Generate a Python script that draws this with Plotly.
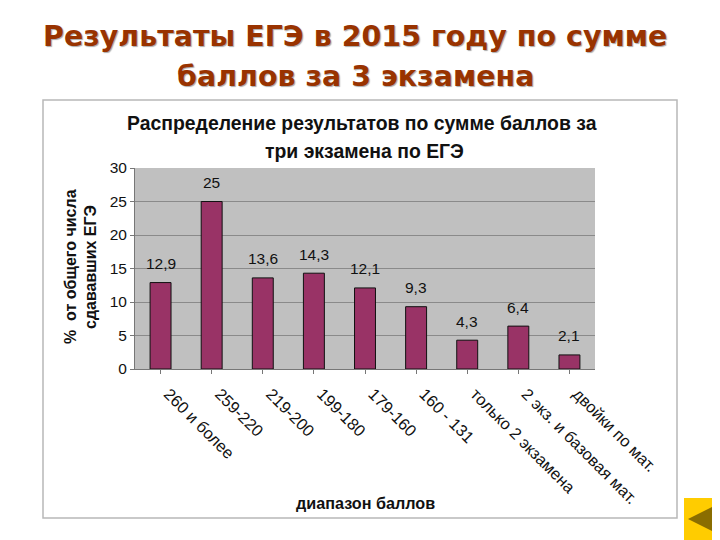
import plotly.graph_objects as go

categories = ["260 и более", "259-220", "219-200", "199-180", "179-160", "160 - 131",
              "только 2 экзамена", "2 экз. и базовая мат.", "двойки по мат."]
values = [12.9, 25, 13.6, 14.3, 12.1, 9.3, 4.3, 6.4, 2.1]
value_labels = ["12,9", "25", "13,6", "14,3", "12,1", "9,3", "4,3", "6,4", "2,1"]
y_ticks = [0, 5, 10, 15, 20, 25, 30]

OFF = 8  # page body margin
W, H = 720, 540
L, R, T, B = 135, 595, 168, 369
def px(x): return (x - L) / (R - L)
def py(y): return (B - y) / (B - T)

fig = go.Figure(go.Bar(
    x=categories, y=values,
    marker=dict(color="#993366", line=dict(color="#111", width=1)),
    width=0.41,
))

shapes = [
    dict(type="rect", xref="paper", yref="paper", x0=px(43), x1=px(677), y0=py(518), y1=py(100),
         line=dict(color="#b8b8b8", width=1.5), fillcolor="white", layer="below"),
    dict(type="rect", xref="paper", yref="paper", x0=0, x1=1, y0=0, y1=1,
         line=dict(width=0), fillcolor="#c0c0c0", layer="below"),
    dict(type="rect", xref="paper", yref="paper", x0=px(684), x1=px(720), y0=py(540), y1=py(498),
         line=dict(width=0), fillcolor="#ffcc00"),
    dict(type="path", xref="paper", yref="paper",
         path=f"M {px(716)} {py(505)} L {px(716)} {py(533)} L {px(688)} {py(519)} Z",
         line=dict(width=0), fillcolor="#8a6d00"),
]

title_font = dict(family="DejaVu Sans", size=28.5, color="#993300", weight="bold",
                  shadow="1px 1px 1px #aaa")
bold = dict(family="Liberation Sans", color="#111", weight="bold")
def note(text, x, y, font, **kw):
    return dict(text=text, x=px(x), y=py(y), xref="paper", yref="paper", showarrow=False,
                xanchor="center", yanchor="middle", font=font, **kw)

annotations = [
    note("Результаты ЕГЭ в 2015 году по сумме", 355, 36, title_font),
    note("баллов за 3 экзамена", 355, 76, title_font),
    note("Распределение результатов по сумме баллов за", 362, 123, dict(bold, size=19.4)),
    note("три экзамена по ЕГЭ", 364, 151, dict(bold, size=19.4)),
    note("диапазон баллов", 365, 503, dict(bold, size=16.2)),
    note("%  от общего числа", 70, 267, dict(bold, size=16), textangle=-90),
    note("сдававших ЕГЭ", 90, 267, dict(bold, size=16), textangle=-90),
]
for c, v, t in zip(categories, values, value_labels):
    annotations.append(dict(text=t, x=c, y=v, xref="x", yref="y", showarrow=False, yshift=19,
                            font=dict(family="Liberation Sans", size=15.5, color="#111")))

fig.update_layout(
    width=W - OFF, height=H - OFF, autosize=False,
    margin=dict(l=L - OFF, r=W - R, t=T - OFF, b=H - B, pad=0),
    paper_bgcolor="white", plot_bgcolor="rgba(0,0,0,0)",
    showlegend=False, shapes=shapes, annotations=annotations,
    xaxis=dict(type="category", tickangle=45, ticks="outside", ticklen=4, tickcolor="#777",
               showgrid=False, showline=True, linecolor="#777", linewidth=1,
               tickfont=dict(family="Liberation Sans", size=16.4, color="#111"),
               ticklabelstandoff=4, ticklabelshift=8),
    yaxis=dict(range=[0, 30], tickvals=y_ticks, ticks="outside", ticklen=4, tickcolor="#777",
               showgrid=True, gridcolor="#8a8a8a", gridwidth=1, showline=True, linecolor="#777",
               zeroline=False,
               tickfont=dict(family="Liberation Sans", size=15.5, color="#111")),
)

fig.write_html("out.html")
